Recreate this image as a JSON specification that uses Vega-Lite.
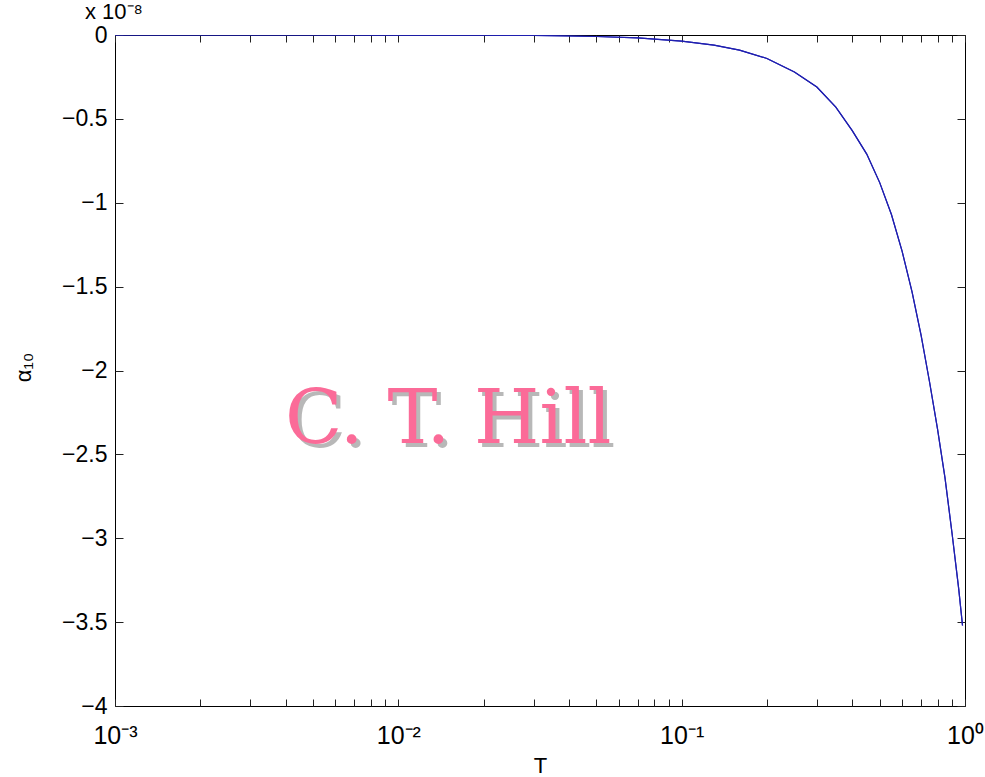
{
  "$schema": "https://vega.github.io/schema/vega-lite/v6.json",
  "width": 850,
  "height": 671,
  "autosize": {"type": "none"},
  "padding": {"left": 115, "top": 35, "right": 20, "bottom": 71},
  "background": "white",
  "config": {
    "view": {"stroke": "#000000", "strokeWidth": 1},
    "axis": {
      "domain": false,
      "grid": false,
      "labelFont": "Liberation Sans",
      "titleFont": "Liberation Sans",
      "labelColor": "#000000",
      "titleColor": "#000000",
      "tickColor": "#222222",
      "labelFontSize": 23,
      "titleFontSize": 22,
      "titleFontWeight": "normal"
    }
  },
  "title": {
    "text": "x 10⁻⁸",
    "anchor": "start",
    "frame": "group",
    "dx": -30,
    "offset": 0,
    "fontSize": 22,
    "fontWeight": "normal",
    "font": "Liberation Sans",
    "color": "#000000"
  },
  "datasets": {
    "curve": [
      {"T": 0.001, "alpha": 0},
      {"T": 0.002, "alpha": 0},
      {"T": 0.005, "alpha": -0.0001},
      {"T": 0.01, "alpha": -0.0004},
      {"T": 0.02, "alpha": -0.0014},
      {"T": 0.03, "alpha": -0.003},
      {"T": 0.04, "alpha": -0.006},
      {"T": 0.05, "alpha": -0.009},
      {"T": 0.07, "alpha": -0.017},
      {"T": 0.1, "alpha": -0.036},
      {"T": 0.13, "alpha": -0.06},
      {"T": 0.16, "alpha": -0.09},
      {"T": 0.2, "alpha": -0.14},
      {"T": 0.25, "alpha": -0.22},
      {"T": 0.3, "alpha": -0.31},
      {"T": 0.35, "alpha": -0.43},
      {"T": 0.4, "alpha": -0.57},
      {"T": 0.45, "alpha": -0.71},
      {"T": 0.5, "alpha": -0.88},
      {"T": 0.55, "alpha": -1.07},
      {"T": 0.6, "alpha": -1.29},
      {"T": 0.65, "alpha": -1.53},
      {"T": 0.7, "alpha": -1.79},
      {"T": 0.75, "alpha": -2.07},
      {"T": 0.8, "alpha": -2.35},
      {"T": 0.85, "alpha": -2.64},
      {"T": 0.9, "alpha": -2.97},
      {"T": 0.95, "alpha": -3.3},
      {"T": 0.98, "alpha": -3.52}
    ],
    "mark": [
      {"T": 0.015, "alpha": -2.43, "label": "C. T. Hill"}
    ]
  },
  "layer": [
    {
      "data": {"name": "curve"},
      "mark": {"type": "line", "color": "#1f1fb0", "strokeWidth": 1.2, "clip": true},
      "encoding": {
        "x": {
          "field": "T", "type": "quantitative",
          "scale": {"type": "log", "domain": [0.001, 1], "nice": false},
          "axis": {
            "orient": "bottom",
            "title": "T",
            "titleBaseline": "alphabetic",
            "titleY": 66,
            "values": [0.001,0.002,0.003,0.004,0.005,0.006,0.007,0.008,0.009,0.01,0.02,0.03,0.04,0.05,0.06,0.07,0.08,0.09,0.1,0.2,0.3,0.4,0.5,0.6,0.7,0.8,0.9,1],
            "labelExpr": "datum.value == 0.001 ? '10⁻³' : datum.value == 0.01 ? '10⁻²' : datum.value == 0.1 ? '10⁻¹' : datum.value == 1 ? '10⁰' : ''",
            "labelOverlap": false,
            "labelFlush": false,
            "labelPadding": 24,
            "labelFontSize": 25,
            "tickSize": -7
          }
        },
        "y": {
          "field": "alpha", "type": "quantitative",
          "scale": {"domain": [-4, 0], "nice": false, "zero": false},
          "axis": {
            "orient": "left",
            "title": "α₁₀",
            "titleFontSize": 22,
            "titleX": -92,
            "titleY": 332,
            "titleAngle": 270,
            "titleBaseline": "middle",
            "titleAlign": "center",
            "values": [-4,-3.5,-3,-2.5,-2,-1.5,-1,-0.5,0],
            "labelExpr": "datum.value == 0 ? '0' : '−' + format(-datum.value, '')",
            "labelOverlap": false,
            "labelFlush": false,
            "labelPadding": 16,
            "tickSize": -8
          }
        }
      }
    },
    {
      "data": {"name": "curve"},
      "mark": {"type": "line", "color": "#1f1fb0", "strokeWidth": 1.2, "clip": true},
      "encoding": {
        "x": {
          "field": "T", "type": "quantitative",
          "axis": {
            "orient": "top",
            "title": null,
            "labels": false,
            "values": [0.001,0.002,0.003,0.004,0.005,0.006,0.007,0.008,0.009,0.01,0.02,0.03,0.04,0.05,0.06,0.07,0.08,0.09,0.1,0.2,0.3,0.4,0.5,0.6,0.7,0.8,0.9,1],
            "tickSize": -7
          }
        },
        "y": {
          "field": "alpha", "type": "quantitative",
          "axis": {
            "orient": "right",
            "title": null,
            "labels": false,
            "values": [-4,-3.5,-3,-2.5,-2,-1.5,-1,-0.5,0],
            "tickSize": -8
          }
        }
      }
    },
    {
      "data": {"name": "mark"},
      "mark": {"type": "text", "font": "DejaVu Serif", "fontSize": 75, "color": "#b8b8b8", "dx": 4, "dy": 4, "align": "center", "baseline": "alphabetic"},
      "encoding": {
        "x": {"field": "T", "type": "quantitative", "axis": null},
        "y": {"field": "alpha", "type": "quantitative", "axis": null},
        "text": {"field": "label"}
      }
    },
    {
      "data": {"name": "mark"},
      "mark": {"type": "text", "font": "DejaVu Serif", "fontSize": 75, "color": "#fb6b98", "align": "center", "baseline": "alphabetic"},
      "encoding": {
        "x": {"field": "T", "type": "quantitative", "axis": null},
        "y": {"field": "alpha", "type": "quantitative", "axis": null},
        "text": {"field": "label"}
      }
    }
  ],
  "resolve": {"axis": {"x": "independent", "y": "independent"}}
}
